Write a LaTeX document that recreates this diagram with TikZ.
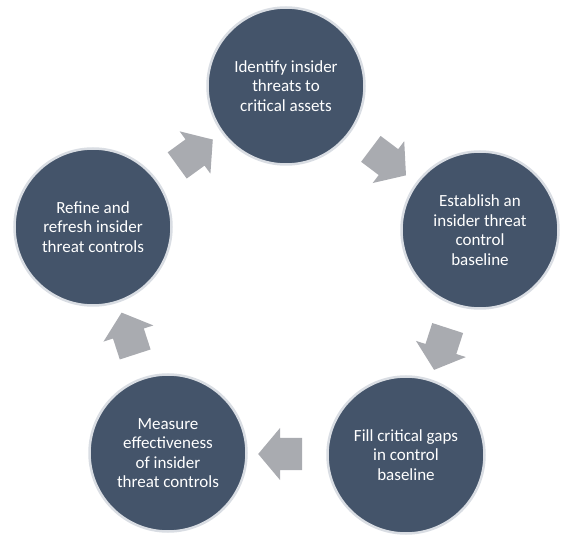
\documentclass[tikz,border=0pt]{standalone}
\usepackage{fontspec}
\setmainfont{Carlito}
\usepackage{tikz}
\usetikzlibrary{calc,shapes.arrows}
\definecolor{slate}{HTML}{44546A}
\definecolor{rim}{HTML}{D9DDE3}
\definecolor{flowgray}{HTML}{A9ABB0}
\tikzset{
  stage/.style = {draw=rim, line width=2.5pt, fill=slate, circle,
                  minimum size=157pt, inner sep=0pt, align=center,
                  text=white, font=\fontsize{17}{19.5}\selectfont},
  flow/.style  = {single arrow, fill=flowgray, draw=none,
                  inner xsep=0pt, inner ysep=16pt,
                  minimum height=44pt,
                  single arrow head extend=10pt, single arrow tip angle=100},
}

\begin{document}
\begin{tikzpicture}[x=1pt,y=-1pt]
\useasboundingbox (0,0) rectangle (574,548);
% ---------- stages ----------
\node[stage] (ident)  at (286,86)  {Identify insider\\threats to\\critical assets};
\node[stage] (base)   at (480,230) {Establish an\\insider threat\\control\\baseline};
\node[stage] (fill)   at (406,455) {Fill critical gaps\\in control\\baseline};
\node[stage] (meas)   at (168,453) {Measure\\effectiveness\\of insider\\threat controls};
\node[stage] (refine) at (93,227)  {Refine and\\refresh insider\\threat controls};
% ---------- arrows ----------
\node[flow, rotate=36]   (f1) at ($(refine)!0.5!(ident)$) {};
\node[flow, rotate=-37]  (f2) at ($(ident)!0.5!(base)$)   {};
\node[flow, rotate=-108] (f3) at ($(base)!0.5!(fill)$)    {};
\node[flow, rotate=180]  (f4) at ($(fill)!0.5!(meas)$)    {};
\node[flow, rotate=108]  (f5) at ($(meas)!0.5!(refine)$)  {};
\end{tikzpicture}
\end{document}
